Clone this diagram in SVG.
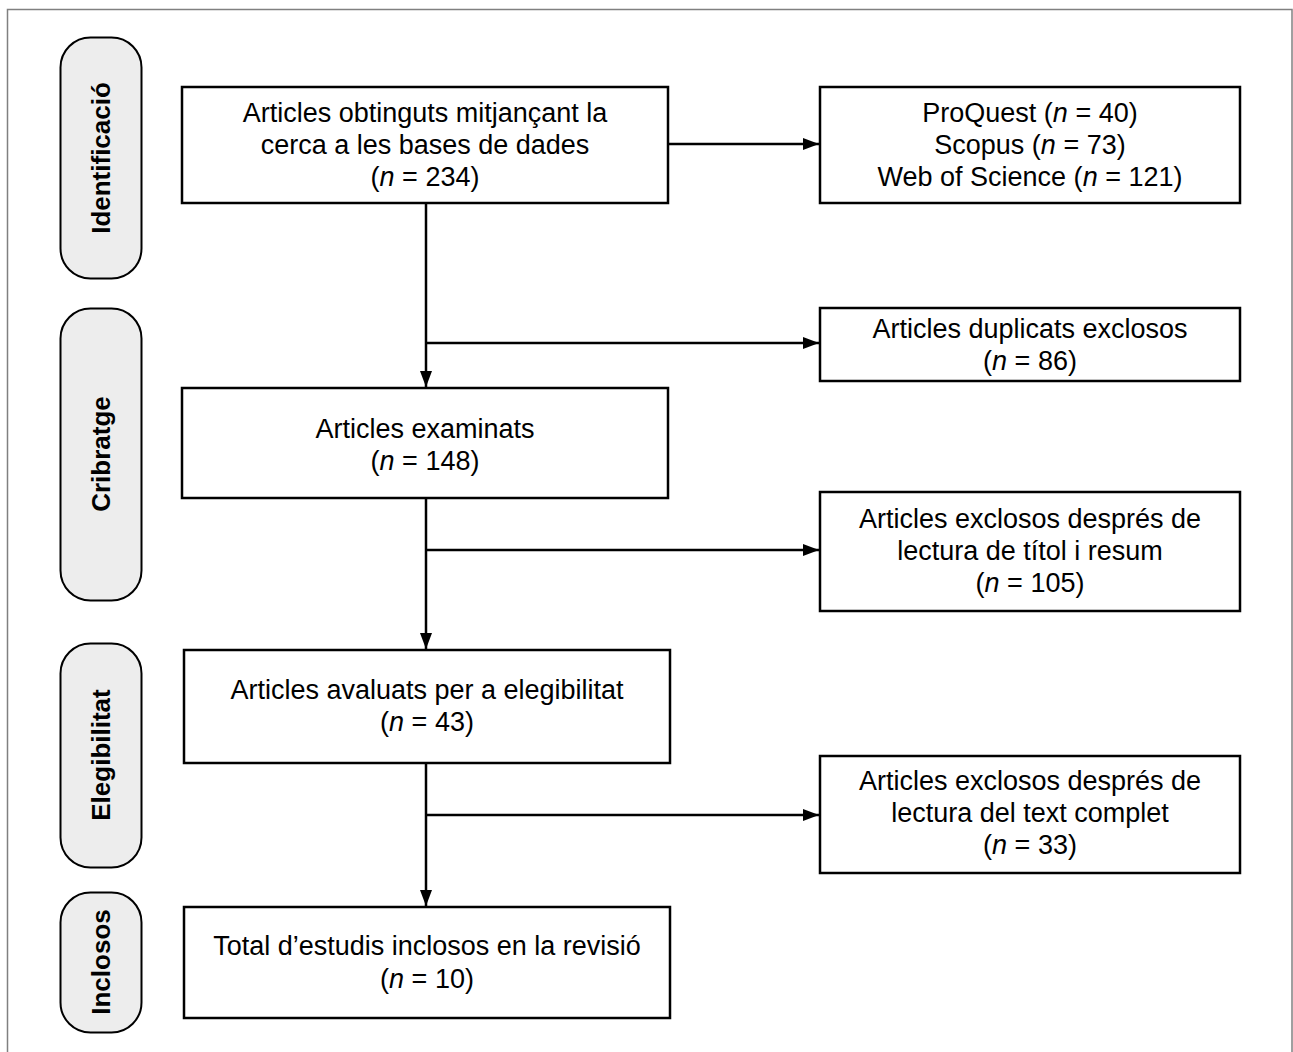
<svg xmlns="http://www.w3.org/2000/svg" width="1293" height="1052" viewBox="0 0 1293 1052">
<style>
.frame{fill:none;stroke:#808080;stroke-width:1.5}
.pill{fill:#ededed;stroke:#000;stroke-width:2}
.box{fill:#fff;stroke:#000;stroke-width:2.5}
.lbl{font-family:"Liberation Sans",Arial,Helvetica,sans-serif;font-size:26px;font-weight:bold;fill:#000;text-anchor:middle}
.t{font-family:"Liberation Sans",Arial,Helvetica,sans-serif;font-size:27px;fill:#000;text-anchor:middle}
.i{font-style:italic}
.ln{fill:none;stroke:#000;stroke-width:2.5}
</style>
<defs>
<marker id="ah" viewBox="0 0 16 12" refX="16" refY="6" markerWidth="16" markerHeight="12" markerUnits="userSpaceOnUse" orient="auto">
<path d="M0,0 L16,6 L0,12 Z" fill="#000"/>
</marker>
</defs>
<rect class="frame" x="7.5" y="9.5" width="1284.5" height="1060"/>

<g id="stage-identificacio">
<rect class="pill" x="60.5" y="37.5" width="81" height="241" rx="30" ry="30"/>
<text class="lbl" transform="translate(101,158) rotate(-90)" x="0" y="9">Identificació</text>
</g>
<g id="stage-cribratge">
<rect class="pill" x="60.5" y="308.5" width="81" height="292" rx="30" ry="30"/>
<text class="lbl" transform="translate(101,454) rotate(-90)" x="0" y="9">Cribratge</text>
</g>
<g id="stage-elegibilitat">
<rect class="pill" x="60.5" y="643.5" width="81" height="224" rx="30" ry="30"/>
<text class="lbl" transform="translate(101,755) rotate(-90)" x="0" y="9">Elegibilitat</text>
</g>
<g id="stage-inclosos">
<rect class="pill" x="60.5" y="892.5" width="81" height="140" rx="30" ry="30"/>
<text class="lbl" transform="translate(101,962) rotate(-90)" x="0" y="9">Inclosos</text>
</g>

<g id="connectors">
<line class="ln" x1="426" y1="203" x2="426" y2="387" marker-end="url(#ah)"/>
<line class="ln" x1="668" y1="144" x2="819" y2="144" marker-end="url(#ah)"/>
<line class="ln" x1="426" y1="343" x2="819" y2="343" marker-end="url(#ah)"/>
<line class="ln" x1="426" y1="498" x2="426" y2="649" marker-end="url(#ah)"/>
<line class="ln" x1="426" y1="550" x2="819" y2="550" marker-end="url(#ah)"/>
<line class="ln" x1="426" y1="763" x2="426" y2="906" marker-end="url(#ah)"/>
<line class="ln" x1="426" y1="815" x2="819" y2="815" marker-end="url(#ah)"/>
</g>

<g id="n-articles-obtinguts">
<rect class="box" x="182" y="87" width="486" height="116"/>
<text class="t" x="425" y="122">Articles obtinguts mitjançant la</text>
<text class="t" x="425" y="154">cerca a les bases de dades</text>
<text class="t" x="425" y="186">(<tspan class="i">n</tspan> = 234)</text>
</g>
<g id="n-bases">
<rect class="box" x="820" y="87" width="420" height="116"/>
<text class="t" x="1030" y="122">ProQuest (<tspan class="i">n</tspan> = 40)</text>
<text class="t" x="1030" y="154">Scopus (<tspan class="i">n</tspan> = 73)</text>
<text class="t" x="1030" y="186">Web of Science (<tspan class="i">n</tspan> = 121)</text>
</g>
<g id="n-duplicats">
<rect class="box" x="820" y="308" width="420" height="73"/>
<text class="t" x="1030" y="338">Articles duplicats exclosos</text>
<text class="t" x="1030" y="370">(<tspan class="i">n</tspan> = 86)</text>
</g>
<g id="n-examinats">
<rect class="box" x="182" y="388" width="486" height="110"/>
<text class="t" x="425" y="438">Articles examinats</text>
<text class="t" x="425" y="470">(<tspan class="i">n</tspan> = 148)</text>
</g>
<g id="n-exclosos-titol">
<rect class="box" x="820" y="492" width="420" height="119"/>
<text class="t" x="1030" y="528">Articles exclosos després de</text>
<text class="t" x="1030" y="560">lectura de títol i resum</text>
<text class="t" x="1030" y="592">(<tspan class="i">n</tspan> = 105)</text>
</g>
<g id="n-avaluats">
<rect class="box" x="184" y="650" width="486" height="113"/>
<text class="t" x="427" y="699">Articles avaluats per a elegibilitat</text>
<text class="t" x="427" y="731">(<tspan class="i">n</tspan> = 43)</text>
</g>
<g id="n-exclosos-text">
<rect class="box" x="820" y="756" width="420" height="117"/>
<text class="t" x="1030" y="790">Articles exclosos després de</text>
<text class="t" x="1030" y="822">lectura del text complet</text>
<text class="t" x="1030" y="854">(<tspan class="i">n</tspan> = 33)</text>
</g>
<g id="n-total">
<rect class="box" x="184" y="907" width="486" height="111"/>
<text class="t" x="427" y="955">Total d’estudis inclosos en la revisió</text>
<text class="t" x="427" y="988">(<tspan class="i">n</tspan> = 10)</text>
</g>
</svg>
